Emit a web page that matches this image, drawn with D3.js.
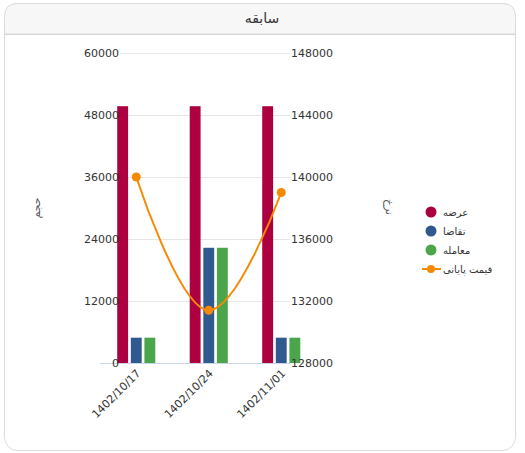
<!DOCTYPE html>
<html lang="fa">
<head>
    <meta charset="UTF-8">
    <script src="https://cdn.jsdelivr.net/npm/d3@7"></script>
    <title>سابقه</title>
    <style>
        body { margin: 0; background: #fff; }
        text { font-family: "DejaVu Sans", sans-serif; }
        .tick-lbl { font-size: 11px; fill: #333; }
        .leg { font-size: 10px; fill: #333; }
    </style>
</head>
<body>
    <script>
        // data
        const dates = ["1402/10/17", "1402/10/24", "1402/11/01"]
        const seriesNames = ["عرضه", "تقاضا", "معامله"]
        const supply = [49700, 49700, 49700]
        const demand = [4900, 22300, 4900]
        const deals = [4900, 22300, 4900]
        const closePrice = [140000, 131400, 139000]
        const leftTicks = [0, 12000, 24000, 36000, 48000, 60000]
        const rightTicks = [128000, 132000, 136000, 140000, 144000, 148000]
        const colors = ["#ad0040", "#30598f", "#4ba54b"]
        const lineColor = "#f58a07"

        const width = 525, height = 453
        const svg = d3.select("body").append("svg")
            .attr("width", width)
            .attr("height", height)

        // card
        svg.append("rect")
            .attr("x", 4.5).attr("y", 3.5)
            .attr("width", 511).attr("height", 447)
            .attr("rx", 13)
            .attr("fill", "#fff").attr("stroke", "#dcdcdc")
        svg.append("path")
            .attr("d", "M4.5,34 L4.5,16.5 Q4.5,3.5 17.5,3.5 L502.5,3.5 Q515.5,3.5 515.5,16.5 L515.5,34 Z")
            .attr("fill", "#f7f7f7").attr("stroke", "#dcdcdc")
        svg.append("line")
            .attr("x1", 4.5).attr("x2", 515.5).attr("y1", 34.5).attr("y2", 34.5)
            .attr("stroke", "#d6d6d6")
        svg.append("text")
            .attr("x", 262).attr("y", 23)
            .attr("text-anchor", "middle")
            .attr("font-size", 14).attr("fill", "#333")
            .text("سابقه")

        const x0 = d3.scaleBand().domain(dates).range([100, 317.5])
            .paddingInner(0.4).paddingOuter(0.2)
        const x1 = d3.scaleBand().domain(seriesNames).range([0, x0.bandwidth()]).padding(0.2)
        const yL = d3.scaleLinear().domain([0, 60000]).range([363, 53])
        const yR = d3.scaleLinear().domain([128000, 148000]).range([363, 53])

        const gridL = 120, gridR = 290

        // grid
        svg.append("g").selectAll("line")
            .data(leftTicks.filter(d => d > 0))
            .join("line")
            .attr("x1", gridL).attr("x2", gridR)
            .attr("y1", d => Math.round(yL(d)) + 0.5)
            .attr("y2", d => Math.round(yL(d)) + 0.5)
            .attr("stroke", "#e6e6e6")

        // bars
        const barData = dates.map((d, i) => ({
            date: d,
            vals: [supply[i], demand[i], deals[i]]
        }))
        svg.append("g").selectAll("g")
            .data(barData)
            .join("g")
            .attr("transform", d => `translate(${x0(d.date)},0)`)
            .selectAll("rect")
            .data(d => d.vals.map((v, k) => ({ name: seriesNames[k], v: v, k: k })))
            .join("rect")
            .attr("x", d => x1(d.name))
            .attr("width", x1.bandwidth())
            .attr("y", d => yL(d.v))
            .attr("height", d => yL(0) - yL(d.v))
            .attr("fill", d => colors[d.k])

        // baseline
        svg.append("line")
            .attr("x1", 100).attr("x2", gridR)
            .attr("y1", 363.5).attr("y2", 363.5)
            .attr("stroke", "#ccd6eb")

        // left labels
        svg.append("g").selectAll("text")
            .data(leftTicks)
            .join("text")
            .attr("class", "tick-lbl")
            .attr("x", gridL - 1)
            .attr("y", d => yL(d) + 4)
            .attr("text-anchor", "end")
            .text(d => d)

        // right labels
        svg.append("g").selectAll("text")
            .data(rightTicks)
            .join("text")
            .attr("class", "tick-lbl")
            .attr("x", gridR + 1)
            .attr("y", d => yR(d) + 4)
            .text(d => d)

        // x labels
        svg.append("g").selectAll("text")
            .data(dates)
            .join("text")
            .attr("class", "tick-lbl")
            .attr("text-anchor", "end")
            .attr("transform", d => `translate(${x0(d) + x0.bandwidth() / 2 + 5},${374}) rotate(-45)`)
            .text(d => d)

        // axis titles
        svg.append("text")
            .attr("transform", "translate(40,208) rotate(-90)")
            .attr("text-anchor", "middle")
            .attr("font-size", 11).attr("fill", "#555")
            .text("حجم")
        svg.append("text")
            .attr("transform", "translate(386,207) rotate(90)")
            .attr("text-anchor", "middle")
            .attr("font-size", 11).attr("fill", "#555")
            .text("نرخ")

        // spline, highcharts-like control points
        const pts = dates.map((d, i) => [x0(d) + x0.bandwidth() / 2, yR(closePrice[i])])
        function splinePath(p) {
            const sm = 1.5, den = sm + 1
            const ctl = p.map((pt, i) => {
                const prev = p[i - 1], next = p[i + 1]
                if (!prev || !next) return null
                let lx = (sm * pt[0] + prev[0]) / den, ly = (sm * pt[1] + prev[1]) / den
                let rx = (sm * pt[0] + next[0]) / den, ry = (sm * pt[1] + next[1]) / den
                const corr = ((ry - ly) * (rx - pt[0])) / (rx - lx) + pt[1] - ry
                ly += corr; ry += corr
                if (ly > prev[1] && ly > pt[1]) { ly = Math.max(prev[1], pt[1]); ry = 2 * pt[1] - ly }
                else if (ly < prev[1] && ly < pt[1]) { ly = Math.min(prev[1], pt[1]); ry = 2 * pt[1] - ly }
                if (ry > next[1] && ry > pt[1]) { ry = Math.max(next[1], pt[1]); ly = 2 * pt[1] - ry }
                else if (ry < next[1] && ry < pt[1]) { ry = Math.min(next[1], pt[1]); ly = 2 * pt[1] - ry }
                return { l: [lx, ly], r: [rx, ry] }
            })
            const path = d3.path()
            path.moveTo(p[0][0], p[0][1])
            for (let i = 1; i < p.length; i++) {
                const a = ctl[i - 1] ? ctl[i - 1].r : p[i - 1]
                const b = ctl[i] ? ctl[i].l : p[i]
                path.bezierCurveTo(a[0], a[1], b[0], b[1], p[i][0], p[i][1])
            }
            return path.toString()
        }
        svg.append("path")
            .attr("d", splinePath(pts))
            .attr("fill", "none")
            .attr("stroke", lineColor)
            .attr("stroke-width", 2)
        svg.append("g").selectAll("circle")
            .data(pts)
            .join("circle")
            .attr("cx", d => d[0]).attr("cy", d => d[1])
            .attr("r", 4.5)
            .attr("fill", lineColor)

        // legend
        const legendY = [212, 231, 250, 269]
        const leg = svg.append("g")
        seriesNames.forEach((n, i) => {
            leg.append("circle")
                .attr("cx", 431).attr("cy", legendY[i])
                .attr("r", 5.5).attr("fill", colors[i])
            leg.append("text")
                .attr("class", "leg")
                .attr("x", 443).attr("y", legendY[i] + 4)
                .text(n)
        })
        leg.append("line")
            .attr("x1", 422).attr("x2", 441)
            .attr("y1", legendY[3]).attr("y2", legendY[3])
            .attr("stroke", lineColor).attr("stroke-width", 2)
        leg.append("circle")
            .attr("cx", 431).attr("cy", legendY[3])
            .attr("r", 4).attr("fill", lineColor)
        leg.append("text")
            .attr("class", "leg")
            .attr("x", 443).attr("y", legendY[3] + 4)
            .text("قیمت پایانی")
    </script>
</body>
</html>
